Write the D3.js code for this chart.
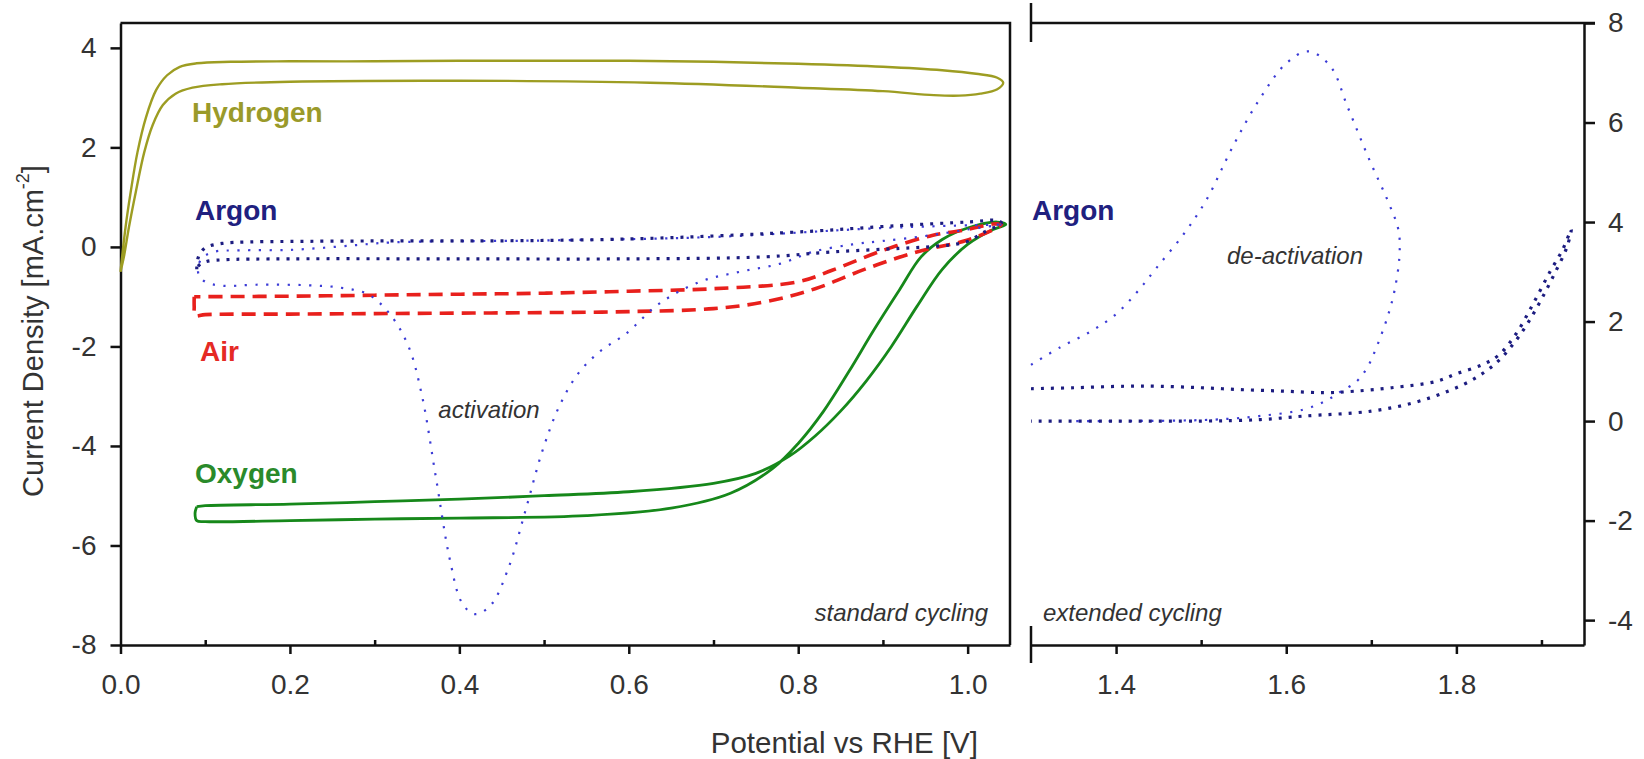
<!DOCTYPE html>
<html>
<head>
<meta charset="utf-8">
<script src="https://cdn.jsdelivr.net/npm/d3@7"></script>
<style>
  html, body { margin: 0; padding: 0; background: #fff; }
  svg { display: block; }
  text { font-family: "Liberation Sans", Arial, sans-serif; }
</style>
</head>
<body>
<svg id="chart" width="1644" height="759"></svg>
<script>
// ---- data: cyclic voltammograms, potential [V vs RHE] vs current density [mA cm^-2] ----

// standard cycling window
const hydrogenLoop = [
  [0.000,-0.50],[0.006,0.40],[0.012,1.10],[0.020,1.90],[0.030,2.60],[0.042,3.15],[0.055,3.45],
  [0.070,3.62],[0.090,3.69],[0.130,3.72],[0.200,3.73],[0.300,3.73],[0.400,3.74],[0.500,3.74],
  [0.600,3.74],[0.700,3.72],[0.800,3.68],[0.900,3.62],[0.970,3.55],[1.010,3.48],[1.035,3.40],
  [1.042,3.30],[1.035,3.17],[1.015,3.08],[0.990,3.04],[0.960,3.05],[0.900,3.13],[0.800,3.20],
  [0.625,3.30],[0.400,3.34],[0.200,3.32],[0.120,3.27],[0.085,3.20],[0.065,3.08],[0.050,2.85],
  [0.038,2.45],[0.028,1.90],[0.018,1.10],[0.010,0.40],[0.004,-0.20],[0.000,-0.50]
];

const argonLoop = [
  [0.090,-0.45],[0.092,-0.20],[0.100,-0.02],[0.120,0.07],[0.150,0.10],[0.200,0.11],[0.300,0.12],
  [0.400,0.12],[0.500,0.13],[0.600,0.16],[0.700,0.22],[0.800,0.30],[0.920,0.43],[1.000,0.50],
  [1.035,0.53],[1.040,0.48],[1.020,0.30],[0.998,0.10],[0.960,0.01],[0.920,-0.03],[0.840,-0.10],
  [0.760,-0.20],[0.600,-0.24],[0.400,-0.24],[0.200,-0.24],[0.120,-0.26],[0.100,-0.30],
  [0.092,-0.38],[0.090,-0.45]
];

// first (activation) cycle in argon
const activationScan = [
  [1.040,0.45],[1.000,0.35],[0.950,0.22],[0.900,0.12],[0.864,0.05],[0.817,-0.10],[0.778,-0.34],
  [0.731,-0.50],[0.684,-0.70],[0.636,-1.14],[0.597,-1.74],[0.566,-2.10],[0.540,-2.55],[0.518,-3.20],
  [0.498,-4.10],[0.478,-5.30],[0.458,-6.45],[0.437,-7.20],[0.418,-7.38],[0.403,-7.15],[0.389,-6.30],
  [0.372,-4.60],[0.356,-3.00],[0.340,-2.00],[0.318,-1.35],[0.292,-0.95],[0.260,-0.82],[0.220,-0.77],
  [0.160,-0.76],[0.120,-0.78],[0.100,-0.70],[0.092,-0.55],[0.095,-0.25],[0.110,-0.10],[0.140,-0.07],
  [0.200,-0.06],[0.260,0.01],[0.320,0.09],[0.500,0.13],[0.700,0.20],[0.900,0.38],[1.040,0.45]
];

const airLoop = [
  [0.087,-1.00],[0.087,-1.20],[0.088,-1.38],[0.100,-1.36],[0.200,-1.35],[0.300,-1.34],[0.400,-1.33],
  [0.500,-1.32],[0.600,-1.30],[0.700,-1.24],[0.762,-1.10],[0.820,-0.84],[0.880,-0.44],[0.940,-0.10],
  [0.998,0.13],[1.034,0.38],[1.040,0.45],[1.030,0.46],[1.000,0.35],[0.958,0.23],[0.900,-0.07],
  [0.840,-0.47],[0.800,-0.70],[0.700,-0.84],[0.600,-0.89],[0.500,-0.93],[0.400,-0.95],[0.300,-0.97],
  [0.200,-0.99],[0.100,-1.00],[0.087,-1.00]
];

const oxygenLoop = [
  [0.090,-5.22],[0.100,-5.20],[0.200,-5.17],[0.300,-5.12],[0.400,-5.07],[0.500,-5.00],[0.600,-4.92],
  [0.700,-4.75],[0.750,-4.55],[0.790,-4.20],[0.820,-3.80],[0.850,-3.30],[0.880,-2.70],[0.910,-2.00],
  [0.940,-1.20],[0.970,-0.45],[1.000,0.05],[1.030,0.35],[1.045,0.45],[1.035,0.50],[1.000,0.38],
  [0.970,0.15],[0.945,-0.20],[0.920,-0.85],[0.890,-1.65],[0.860,-2.50],[0.830,-3.30],[0.800,-3.95],
  [0.770,-4.45],[0.720,-4.95],[0.650,-5.25],[0.550,-5.40],[0.400,-5.45],[0.300,-5.47],[0.200,-5.50],
  [0.100,-5.52],[0.090,-5.50],[0.088,-5.35],[0.090,-5.22]
];

// extended cycling window (argon)
const argonExtendedLoop = [
  [1.300,0.65],[1.350,0.67],[1.410,0.70],[1.450,0.70],[1.500,0.67],[1.550,0.63],[1.600,0.60],
  [1.646,0.57],[1.680,0.60],[1.724,0.67],[1.777,0.80],[1.800,0.95],[1.830,1.13],[1.850,1.33],
  [1.870,1.75],[1.890,2.35],[1.910,3.00],[1.925,3.45],[1.935,3.85],[1.930,3.50],[1.915,2.95],
  [1.900,2.45],[1.885,2.00],[1.870,1.62],[1.850,1.22],[1.823,0.87],[1.790,0.60],[1.750,0.37],
  [1.700,0.20],[1.620,0.10],[1.570,0.03],[1.500,0.00],[1.400,0.00],[1.300,0.00]
];

const deactivationScan = [
  [1.300,1.13],[1.334,1.48],[1.370,1.80],[1.400,2.15],[1.425,2.60],[1.448,3.09],[1.480,3.77],
  [1.506,4.44],[1.537,5.51],[1.568,6.45],[1.600,7.19],[1.626,7.43],[1.652,7.13],[1.672,6.32],
  [1.698,5.24],[1.719,4.44],[1.732,3.83],[1.733,3.30],[1.727,2.60],[1.719,2.09],[1.706,1.48],
  [1.696,1.10],[1.683,0.80],[1.662,0.57],[1.646,0.40],[1.620,0.23],[1.568,0.10],[1.516,0.03],
  [1.410,0.00],[1.350,0.00]
];

// axis ticks
const leftYTicks = [-8, -6, -4, -2, 0, 2, 4];
const leftXTicks = [0.0, 0.2, 0.4, 0.6, 0.8, 1.0];
const leftXMinor = [0.1, 0.3, 0.5, 0.7, 0.9];
const rightXTicks = [1.4, 1.6, 1.8];
const rightXMinor = [1.5, 1.7, 1.9];
const rightYTicks = [-4, -2, 0, 2, 4, 6, 8];

// ---- layout ----
const svg = d3.select("#chart");
const plotTop = 23, plotBottom = 645;
const leftPanel = { x0: 120.5, x1: 1010 };
const rightPanel = { x0: 1031, x1: 1584 };

const xL = d3.scaleLinear().domain([0, 1.05]).range([leftPanel.x0, leftPanel.x1]);
const yL = d3.scaleLinear().domain([-8, 4.5]).range([plotBottom, plotTop]);
const xR = d3.scaleLinear().domain([1.3, 1.95]).range([rightPanel.x0, rightPanel.x1]);
const yR = d3.scaleLinear().domain([-4.5, 8]).range([plotBottom, plotTop]);

const axisColor = "#111";
const tickFont = "28px";
const textGray = "#333";

function styleAxis(g) {
  g.selectAll(".domain").attr("stroke", axisColor).attr("stroke-width", 2.5);
  g.selectAll(".tick line").attr("stroke", axisColor).attr("stroke-width", 2.5);
  g.selectAll(".tick text")
    .attr("fill", textGray)
    .style("font-size", tickFont)
    .style("font-family", '"Liberation Sans", Arial, sans-serif');
}

// ---- left panel axes ----
svg.append("g")
  .attr("transform", `translate(${leftPanel.x0},0)`)
  .call(d3.axisLeft(yL).tickValues(leftYTicks).tickSize(10).tickPadding(14)
        .tickSizeOuter(0).tickFormat(d => String(d)))
  .call(styleAxis);

svg.append("g")
  .attr("transform", `translate(0,${plotBottom})`)
  .call(d3.axisBottom(xL).tickValues(leftXTicks).tickSize(9).tickPadding(20)
        .tickSizeOuter(0).tickFormat(d => d.toFixed(1)))
  .call(styleAxis);

svg.append("g")
  .attr("transform", `translate(0,${plotBottom})`)
  .call(d3.axisBottom(xL).tickValues(leftXMinor).tickSize(-5).tickSizeOuter(0).tickFormat(""))
  .call(styleAxis)
  .call(g => g.select(".domain").remove());

// frame: top and right edges of the standard-cycling box
svg.append("path")
  .attr("d", `M${leftPanel.x0},${plotTop}H${leftPanel.x1}V${plotBottom}`)
  .attr("fill", "none").attr("stroke", axisColor).attr("stroke-width", 2.5);

// ---- right panel axes ----
svg.append("g")
  .attr("transform", `translate(0,${plotBottom})`)
  .call(d3.axisBottom(xR).tickValues(rightXTicks).tickSize(9).tickPadding(20)
        .tickSizeOuter(0).tickFormat(d => d.toFixed(1)))
  .call(styleAxis);

svg.append("g")
  .attr("transform", `translate(0,${plotBottom})`)
  .call(d3.axisBottom(xR).tickValues(rightXMinor).tickSize(-5).tickSizeOuter(0).tickFormat(""))
  .call(styleAxis)
  .call(g => g.select(".domain").remove());

svg.append("g")
  .attr("transform", `translate(${rightPanel.x1},0)`)
  .call(d3.axisRight(yR).tickValues(rightYTicks).tickSize(11).tickPadding(13)
        .tickSizeOuter(0).tickFormat(d => String(d)))
  .call(styleAxis);

// top edge of the extended-cycling box (runs past the axis as the "8" tick)
svg.append("line")
  .attr("x1", xR(1.3)).attr("x2", rightPanel.x1 + 11)
  .attr("y1", plotTop).attr("y2", plotTop)
  .attr("stroke", axisColor).attr("stroke-width", 2.5);

// axis-break marks at the start of the extended window
[[3, 42], [626, 663]].forEach(([a, b]) => {
  svg.append("line")
    .attr("x1", xR(1.3)).attr("x2", xR(1.3))
    .attr("y1", a).attr("y2", b)
    .attr("stroke", axisColor).attr("stroke-width", 2.5);
});

// ---- curves ----
const lineL = d3.line().x(d => xL(d[0])).y(d => yL(d[1])).curve(d3.curveCatmullRom.alpha(0.5));
const lineR = d3.line().x(d => xR(d[0])).y(d => yR(d[1])).curve(d3.curveCatmullRom.alpha(0.5));

const curves = svg.append("g").attr("fill", "none");

curves.append("path").datum(hydrogenLoop).attr("d", lineL)
  .attr("stroke", "#9d9d22").attr("stroke-width", 2.4);

curves.append("path").datum(oxygenLoop).attr("d", lineL)
  .attr("stroke", "#16881a").attr("stroke-width", 2.8);

curves.append("path").datum(airLoop).attr("d", lineL)
  .attr("stroke", "#e8201c").attr("stroke-width", 3.6)
  .attr("stroke-dasharray", "14 8");

curves.append("path").datum(activationScan).attr("d", lineL)
  .attr("stroke", "#3b3bd6").attr("stroke-width", 2.2)
  .attr("stroke-dasharray", "2.2 8.5");

curves.append("path").datum(argonLoop).attr("d", lineL)
  .attr("stroke", "#1c1c80").attr("stroke-width", 3.2)
  .attr("stroke-dasharray", "3 7");

curves.append("path").datum(deactivationScan).attr("d", lineR)
  .attr("stroke", "#3b3bd6").attr("stroke-width", 2.2)
  .attr("stroke-dasharray", "2.2 8.5");

curves.append("path").datum(argonExtendedLoop).attr("d", lineR)
  .attr("stroke", "#1c1c80").attr("stroke-width", 3.2)
  .attr("stroke-dasharray", "3 7");

// ---- series labels ----
const bold = (x, y, txt, color) => svg.append("text")
  .attr("x", x).attr("y", y).text(txt)
  .attr("fill", color).style("font-size", "28px").style("font-weight", "bold");

bold(192, 122, "Hydrogen", "#9a9a2a");
bold(195, 220, "Argon", "#20207f");
bold(200, 361, "Air", "#e52a24");
bold(195, 483, "Oxygen", "#2a8a2a");
bold(1032, 220, "Argon", "#20207f");

const note = (x, y, txt, anchor) => svg.append("text")
  .attr("x", x).attr("y", y).text(txt)
  .attr("text-anchor", anchor)
  .attr("fill", textGray).style("font-size", "24px").style("font-style", "italic");

note(489, 418, "activation", "middle");
note(1295, 264, "de-activation", "middle");
note(988, 621, "standard cycling", "end");
note(1043, 621, "extended cycling", "start");

// ---- axis titles ----
svg.append("text")
  .attr("transform", "translate(33,331) rotate(-90)")
  .attr("text-anchor", "middle").attr("dominant-baseline", "central")
  .attr("fill", textGray).style("font-size", "29px")
  .call(t => {
    t.append("tspan").text("Current Density [mA.cm");
    t.append("tspan").text("-2").attr("baseline-shift", "super").style("font-size", "18px");
    t.append("tspan").text("]");
  });

svg.append("text")
  .attr("x", 978).attr("y", 753)
  .attr("text-anchor", "end")
  .attr("fill", textGray).style("font-size", "29.5px")
  .text("Potential vs RHE [V]");
</script>
</body>
</html>
